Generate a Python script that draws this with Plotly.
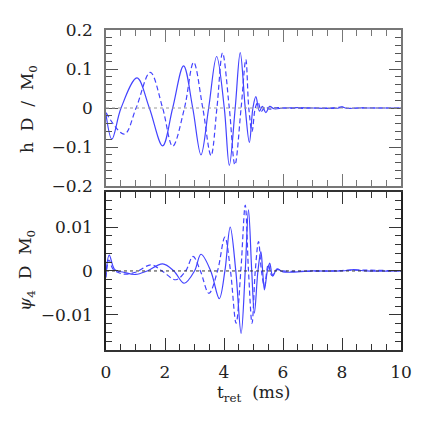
import plotly.graph_objects as go

# ── DATA ──────────────────────────────────────────────────────────
# top panel: h D / M0, solid and dashed polarisations
h_sol_t = [0.0, 0.2, 0.51, 1.05, 1.47, 1.92, 2.26, 2.63, 2.94, 3.22, 3.48, 3.75,
           4.01, 4.18, 4.38, 4.55, 4.72, 4.86, 4.98, 5.08, 5.2, 5.3, 5.42, 5.55,
           5.7, 6.0, 6.5, 7.0, 7.5, 7.9, 8.0, 8.15, 8.5, 9.0, 9.5, 10.0]
h_sol = [-0.016, -0.080, 0.0, 0.077, 0.0, -0.097, 0.0, 0.108, 0.0, -0.120, 0.0, 0.132,
         0.0, -0.147, 0.0, 0.142, 0.0, -0.088, 0.0, 0.029, -0.008, 0.004, -0.012, 0.004,
         -0.002, 0.0, 0.001, 0.0, -0.001, 0.0, 0.003, -0.001, 0.0, 0.0, 0.0, 0.0]

h_das_t = [0.0, 0.62, 1.02, 1.50, 1.92, 2.26, 2.66, 2.97, 3.28, 3.56, 3.76, 3.95,
           4.18, 4.37, 4.58, 4.74, 4.84, 4.95, 5.06, 5.15, 5.27, 5.4, 5.55, 5.7,
           6.0, 6.5, 7.0, 7.6, 8.0, 8.2, 8.6, 9.2, 10.0]
h_das = [-0.012, -0.067, 0.0, 0.0915, 0.0, -0.098, 0.0, 0.117, 0.0, -0.122, 0.0, 0.141,
         0.0, -0.146, 0.0, 0.124, 0.0, -0.06, 0.0, 0.015, -0.008, 0.003, -0.003, 0.001,
         0.0, -0.001, 0.0, 0.0, 0.002, -0.001, 0.0, 0.0, 0.0]

# bottom panel: psi4 D M0
p_sol_t = [0.0, 0.11, 0.3, 0.6, 1.0, 1.4, 1.92, 2.3, 2.65, 3.0, 3.22, 3.55, 3.84,
           4.03, 4.21, 4.4, 4.58, 4.72, 4.83, 4.94, 5.03, 5.15, 5.25, 5.31, 5.37,
           5.47, 5.55, 5.65, 5.8, 6.0, 7.0, 8.0, 8.4, 8.8, 10.0]
p_sol = [-0.0005, 0.0036, 0.0003, -0.0003, -0.0008, 0.0, 0.0016, 0.0, -0.0028, 0.0,
         0.0038, 0.0, -0.0063, 0.0, 0.0100, 0.0, -0.0142, 0.0, 0.0139, 0.0, -0.0096,
         0.0, 0.0044, 0.0, -0.0043, 0.0, 0.0018, -0.0012, 0.0005, -0.0002, 0.0, 0.0,
         0.0003, 0.0, 0.0]

p_das_t = [0.0, 0.1, 0.25, 0.6, 1.0, 1.53, 1.9, 2.37, 2.7, 2.95, 3.2, 3.49, 3.78,
           4.03, 4.22, 4.41, 4.57, 4.72, 4.83, 4.95, 5.06, 5.17, 5.27, 5.37, 5.5,
           5.62, 5.8, 6.0, 7.5, 8.5, 10.0]
p_das = [-0.0015, 0.0025, 0.0003, -0.0007, -0.0003, 0.0014, 0.0, -0.0020, 0.0,
         0.0033, 0.0, -0.0051, 0.0, 0.0077, 0.0, -0.0119, 0.0, 0.0150, 0.0, -0.0119,
         0.0, 0.0067, 0.0, -0.0035, 0.0015, -0.0010, 0.0003, 0.0, 0.0, 0.0002, 0.0]

BLUE = "#4343ff"
SERIF = "DejaVu Serif"

fig = go.Figure()

def add_pair(ts, ys, td, yd, ax):
    fig.add_trace(go.Scatter(x=ts, y=ys, mode="lines", xaxis="x" + ax, yaxis="y" + ax,
                             line=dict(color=BLUE, width=1.2, shape="spline", smoothing=1.0),
                             showlegend=False))
    fig.add_trace(go.Scatter(x=td, y=yd, mode="lines", xaxis="x" + ax, yaxis="y" + ax,
                             line=dict(color=BLUE, width=1.2, dash="5px,3px",
                                       shape="spline", smoothing=1.0),
                             showlegend=False))

add_pair(h_sol_t, h_sol, h_das_t, h_das, "")
add_pair(p_sol_t, p_sol, p_das_t, p_das, "2")

# zero reference lines
fig.add_shape(type="line", xref="x", yref="y", x0=0, x1=10, y0=0, y1=0,
              line=dict(color="#999", width=1.2, dash="dot"))
fig.add_shape(type="line", xref="x2", yref="y2", x0=0, x1=10, y0=0, y1=0,
              line=dict(color="#333", width=1, dash="dot"))

tickfont = dict(family=SERIF, size=17, color="#222")

def xax(col, show, anchor):
    return dict(range=[0, 10], domain=[0, 1], anchor=anchor, dtick=2, tick0=0,
                ticks="inside", ticklen=12, tickwidth=1, tickcolor=col,
                minor=dict(dtick=0.5, ticks="inside", ticklen=6, tickcolor=col),
                showline=True, linecolor=col, linewidth=1.5, mirror="allticks",
                showgrid=False, zeroline=False, showticklabels=show,
                tickfont=tickfont, ticklabelstandoff=6)

# the page body adds ~8px offset, so margins are shifted to compensate
fig.update_layout(
    width=429, height=429,
    margin=dict(l=98, r=36, t=22, b=87),
    paper_bgcolor="white", plot_bgcolor="white",
    xaxis=xax("#777", False, "y"),
    yaxis=dict(range=[-0.2, 0.2], domain=[0.5125, 1], anchor="x", dtick=0.1,
               ticks="inside", ticklen=12, tickcolor="#555",
               minor=dict(dtick=0.02, ticks="inside", ticklen=6, tickcolor="#555"),
               showline=True, linecolor="#777", linewidth=1.5, mirror="allticks",
               showgrid=False, zeroline=False, tickfont=tickfont, ticklabelstandoff=8),
    xaxis2=xax("#333", True, "y2"),
    yaxis2=dict(range=[-0.018, 0.018], domain=[0, 0.494], anchor="x2",
                tickvals=[-0.01, 0, 0.01], ticktext=["\u22120.01", "0", "0.01"],
                ticks="inside", ticklen=12, tickcolor="#333",
                minor=dict(dtick=0.002, ticks="inside", ticklen=6, tickcolor="#333"),
                showline=True, linecolor="#222", linewidth=1.5, mirror="allticks",
                showgrid=False, zeroline=False, tickfont=tickfont, ticklabelstandoff=8),
    annotations=[
        dict(text="h  D  /  M<sub>0</sub>", xref="paper", yref="paper",
             x=(28 - 105) / 295, y=(350 - 109) / 320, textangle=-90, showarrow=False,
             xanchor="center", yanchor="middle", font=dict(family=SERIF, size=17, color="#222")),
        dict(text="<i>ψ</i><sub>4</sub>  D  M<sub>0</sub>", xref="paper", yref="paper",
             x=(25 - 105) / 295, y=(350 - 271) / 320, textangle=-90, showarrow=False,
             xanchor="center", yanchor="middle", font=dict(family=SERIF, size=17, color="#222")),
        dict(text="t<sub>ret</sub>  (ms)", xref="paper", yref="paper",
             x=(252 - 105) / 295, y=(350 - 393) / 320, showarrow=False,
             xanchor="center", yanchor="middle", font=dict(family=SERIF, size=17, color="#222")),
    ],
)

fig.write_html("out.html")
